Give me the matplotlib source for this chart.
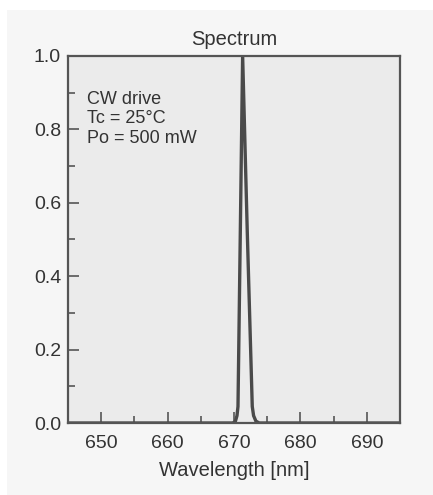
import numpy as np
import matplotlib
matplotlib.use('Agg')
import matplotlib.pyplot as plt
from matplotlib.patches import Rectangle
from matplotlib.ticker import MultipleLocator

plt.rcParams['font.family'] = ['Liberation Sans', 'DejaVu Sans']

# spectrum
wavelength = [645.0, 669.8, 670.2, 670.45, 670.6, 670.95, 671.3, 672.0, 672.75, 672.95, 673.3, 673.8, 695.0]
intensity = [0.0, 0.0, 0.004, 0.02, 0.045, 0.52, 1.0, 0.52, 0.045, 0.02, 0.005, 0.0, 0.0]

xticks = [650, 660, 670, 680, 690]
yticks = [0.0, 0.2, 0.4, 0.6, 0.8, 1.0]
note = "CW drive\nTc = 25°C\nPo = 500 mW"

fig = plt.figure(figsize=(4.33, 4.95), dpi=100, facecolor='white')
fig.patches.append(Rectangle((7/433, 0), 1 - 7/433, 1 - 10/495, transform=fig.transFigure,
                             facecolor='#f6f6f6', edgecolor='none', zorder=-10))

ax = fig.add_axes([68/433, 1 - 423/495, 332/433, 367/495])
ax.set_facecolor('#ebebeb')
ax.plot(wavelength, intensity, color='#4a4a4a', lw=2.4, solid_joinstyle='miter')

ax.set_xlim(645, 695)
ax.set_ylim(0, 1.0)
ax.set_xticks(xticks)
ax.set_yticks(yticks)
ax.set_yticklabels(['%.1f' % v for v in yticks])
ax.xaxis.set_minor_locator(MultipleLocator(5))
ax.yaxis.set_minor_locator(MultipleLocator(0.1))
ax.tick_params(which='major', direction='in', length=8, width=1.2, color='#555555',
               labelsize=14, labelcolor='#333333')
ax.tick_params(which='minor', direction='in', length=5, width=1.2, color='#555555')
ax.tick_params(axis='x', which='major', pad=9)
ax.tick_params(axis='y', which='major', pad=5)

for s in ax.spines.values():
    s.set_color('#555555')
    s.set_linewidth(1.6)

ax.set_title('Spectrum', fontsize=14.5, color='#333333', pad=8)
ax.set_xlabel('Wavelength [nm]', fontsize=14.5, color='#333333', labelpad=6)
ax.text(0.057, 0.905, note, transform=ax.transAxes, fontsize=13,
        color='#333333', va='top', ha='left', linespacing=1.2)

fig.savefig('out.png', dpi=100, facecolor=fig.get_facecolor())
